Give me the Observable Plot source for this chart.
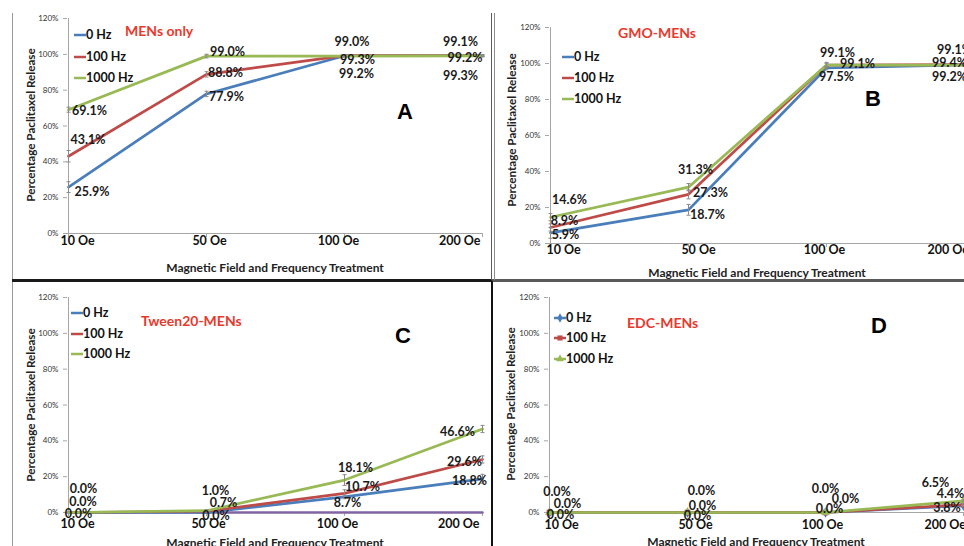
<!DOCTYPE html>
<html><head><meta charset="utf-8">
<script src="https://cdn.jsdelivr.net/npm/d3@7"></script>
<script src="https://cdn.jsdelivr.net/npm/@observablehq/plot@0.6"></script>
<style>
body{margin:0;background:#fff;}
#root{position:relative;width:964px;height:546px;overflow:hidden;background:#fff;font-family:Lato,"Open Sans",sans-serif;}
.abs{position:absolute;white-space:nowrap;line-height:1;}
.ttl{color:#e8392d;font-weight:bold;font-size:14px;transform:translateY(-50%);}
.leg{color:#111;font-weight:bold;font-size:12.5px;transform:translateY(-50%);}
.let{color:#000;font-weight:bold;font-size:22px;font-family:"Liberation Sans",Arial,sans-serif;transform:translateY(-50%);}
.xt{color:#222;font-weight:bold;font-size:12px;transform:translate(-50%,-50%);}
.yt{color:#222;font-weight:bold;font-size:11.7px;transform:translate(-50%,-50%) rotate(-90deg);}
.line{position:absolute;}
svg g[aria-label="y-axis tick label"]{fill:#333;}
</style></head><body><div id="root"></div>
<script>
const categories = ["10 Oe","50 Oe","100 Oe","200 Oe"];
const series = ["0 Hz","100 Hz","1000 Hz"];
const panelTitles = ["MENs only","GMO-MENs","Tween20-MENs","EDC-MENs"];
const panelLetters = ["A","B","C","D"];
const yTicks = [0,20,40,60,80,100,120];
const xTitle = "Magnetic Field and Frequency Treatment";
const yTitle = "Percentage Paclitaxel Release";

const A_0Hz    = [25.9, 77.9, 99.2, 99.3];
const A_100Hz  = [43.1, 88.8, 99.3, 99.2];
const A_1000Hz = [69.1, 99.0, 99.0, 99.1];
const B_0Hz    = [5.9, 18.7, 97.5, 99.2];
const B_100Hz  = [8.9, 27.3, 99.1, 99.4];
const B_1000Hz = [14.6, 31.3, 99.1, 99.1];
const C_0Hz    = [0.0, 0.0, 8.7, 18.8];
const C_100Hz  = [0.0, 0.7, 10.7, 29.6];
const C_1000Hz = [0.0, 1.0, 18.1, 46.6];
const C_baseline = [0, 0, 0, 0];
const D_0Hz    = [0.0, 0.0, 0.0, 3.8];
const D_100Hz  = [0.0, 0.0, 0.0, 4.4];
const D_1000Hz = [0.0, 0.0, 0.0, 6.5];

// error bars (± percentage points), estimated
const A_0Hz_err    = [3, 1.5, 0.5, 0.5];
const A_100Hz_err  = [3.2, 1.5, 0.5, 0.5];
const A_1000Hz_err = [1.4, 1, 0.5, 0.5];
const B_0Hz_err    = [3, 3, 1, 0.5];
const B_100Hz_err  = [2, 2.5, 1, 0.5];
const B_1000Hz_err = [2, 2, 1.5, 0.5];
const C_0Hz_err    = [0, 0, 1, 2.5];
const C_100Hz_err  = [0, 0, 2, 2];
const C_1000Hz_err = [0, 0.5, 3, 2];
const D_0Hz_err    = [0, 0, 0, 0.5];
const D_100Hz_err  = [0, 0, 0, 0.5];
const D_1000Hz_err = [0, 0, 0, 0.5];

// ---------- styling / layout (not data) ----------
const colors = ["#4a7ebb","#be4b48","#98b954"];
const purple = "#8064a2";
const markerSymbols = ["diamond","square","triangle"];

const layout = [
  {left:0,   top:0,   width:490, height:280, ml:67, mr:7,  mt:18, mb:47, tickDy:11,
   ticks:[["start",-8],["middle",3],["middle",-6],["end",-2]],
   nudges:[[[23.5,5],[20,3],[12,18],[-22,20]],
           [[19.5,-16],[19,-1],[13,4],[-17.5,2]],
           [[21,1],[21,-4.5],[7.5,-14],[-22,-14]]],
   title:[125,31], legend:[74,[35,57,78]], letter:[397,112], xt:[275,268], yt:[31,125]},
  {left:494, top:0,   width:490, height:280, ml:55, mr:20, mt:27, mb:37, tickDy:10,
   ticks:[["start",-4],["middle",10],["middle",-2],["start",-37]],
   nudges:[[[15,2],[19,5],[10,8.5],[-15,12]],
           [[14,-6],[22,-1],[31,-1.5],[-15,-2]],
           [[19,-17],[7,-17],[11,-12.5],[-10,-15]]],
   title:[618,33], legend:[562,[57,78,99]], letter:[865,99], xt:[757,273], yt:[512,130]},
  {left:0,   top:282, width:490, height:264, ml:67, mr:7,  mt:15, mb:34, tickDy:15,
   ticks:[["start",-8],["middle",2],["middle",-7],["end",-3]],
   nudges:[[[10,1.5],[9.5,3.5],[3,6],[-13,2]],
           [[14.5,-11],[17,-8.5],[18,-6.5],[-18,3]],
           [[15,-24],[9,-20],[11,-12],[-25,3]]],
   title:[141,321], legend:[71,[313,334,354]], letter:[395,336], xt:[275,543], yt:[31,405]},
  {left:494, top:282, width:490, height:264, ml:54, mr:20, mt:15, mb:34, tickDy:16,
   ticks:[["start",-5],["middle",8],["middle",-3],["start",-39]],
   nudges:[[[11,2],[10,3],[4,-4],[-16.5,2]],
           [[18,-9],[15,-7],[20,-14],[-13,-11]],
           [[7.5,-20.5],[14,-21.5],[0,-24],[-28,-18]]],
   title:[627,323], legend:[554,[318,338,359]], letter:[871,326], xt:[756,542], yt:[511,404]}
];

const panelData = [
  {values:[A_0Hz,A_100Hz,A_1000Hz], errs:[A_0Hz_err,A_100Hz_err,A_1000Hz_err], baseline:null, markers:false},
  {values:[B_0Hz,B_100Hz,B_1000Hz], errs:[B_0Hz_err,B_100Hz_err,B_1000Hz_err], baseline:null, markers:false},
  {values:[C_0Hz,C_100Hz,C_1000Hz], errs:[C_0Hz_err,C_100Hz_err,C_1000Hz_err], baseline:C_baseline, markers:false},
  {values:[D_0Hz,D_100Hz,D_1000Hz], errs:[D_0Hz_err,D_100Hz_err,D_1000Hz_err], baseline:null, markers:true}
];

const capSymbol = {draw(ctx, size){ const r = Math.sqrt(size/Math.PI); ctx.moveTo(-r,0); ctx.lineTo(r,0); }};

const root = document.getElementById("root");
function addDiv(cls, text, x, y){
  const d = document.createElement("div");
  d.className = "abs " + cls; d.textContent = text;
  d.style.left = x + "px"; d.style.top = y + "px";
  root.appendChild(d); return d;
}
function addLine(x, y, w, h, color){
  const d = document.createElement("div");
  d.className = "line";
  Object.assign(d.style, {left:x+"px", top:y+"px", width:w+"px", height:h+"px", background:color});
  root.appendChild(d);
}

panelData.forEach((pd, p) => {
  const L = layout[p];
  const rows = pd.values.flatMap((arr, s) => arr.map((v, i) => ({
    s, series: series[s], cat: categories[i], i, value: v, err: pd.errs[s][i]
  })));
  const marks = [];
  marks.push(Plot.axisY({ticks: yTicks, tickSize: 4, tickPadding: 5, tickFormat: d => d + "%", stroke: "#a6a6a6", fontSize: 8, label: null}));
  marks.push(Plot.axisX({tickSize: 4, tickFormat: () => "", stroke: "#a6a6a6", label: null}));
  marks.push(Plot.ruleY([0], {stroke: "#a6a6a6"}));
  marks.push(Plot.ruleX([categories[0]], {stroke: "#a6a6a6"}));
  if (pd.baseline) {
    marks.push(Plot.line(pd.baseline.map((v, i) => ({cat: categories[i], value: v})), {x: "cat", y: "value", stroke: purple, strokeWidth: 2.5}));
  }
  for (let s = 0; s < series.length; s++) {
    const sd = rows.filter(r => r.s === s);
    marks.push(Plot.line(sd, {x: "cat", y: "value", stroke: colors[s], strokeWidth: 2.7}));
    if (pd.markers) {
      marks.push(Plot.dot(sd, {x: "cat", y: "value", symbol: markerSymbols[s], fill: colors[s], r: 3.2}));
    }
  }
  const eb = rows.filter(r => r.err > 0);
  marks.push(Plot.ruleX(eb, {x: "cat", y1: r => r.value - r.err, y2: r => r.value + r.err, stroke: "#8a8a8a", strokeWidth: 1}));
  marks.push(Plot.dot(eb, {x: "cat", y: r => r.value - r.err, symbol: capSymbol, r: 2, stroke: "#8a8a8a", strokeWidth: 1, fill: "none"}));
  marks.push(Plot.dot(eb, {x: "cat", y: r => r.value + r.err, symbol: capSymbol, r: 2, stroke: "#8a8a8a", strokeWidth: 1, fill: "none"}));
  // data labels
  rows.forEach(r => {
    const [dx, dy] = L.nudges[r.s][r.i];
    marks.push(Plot.text([r], {x: "cat", y: "value", text: d => d.value.toFixed(1) + "%", dx, dy,
      fontSize: 12.5, fontWeight: "bold", fill: "#1a1a1a"}));
  });
  // category tick labels
  categories.forEach((c, i) => {
    const [anchor, dx] = L.ticks[i];
    marks.push(Plot.text([c], {x: d => d, text: d => d, frameAnchor: "bottom", dy: L.tickDy, dx,
      textAnchor: anchor, fontSize: 12.5, fontWeight: "bold", fill: "#111"}));
  });

  const svg = Plot.plot({
    width: L.width, height: L.height,
    marginLeft: L.ml, marginRight: L.mr, marginTop: L.mt, marginBottom: L.mb,
    x: {type: "point", domain: categories, padding: 0, label: null},
    y: {domain: [0, 120], label: null},
    style: {fontFamily: "Lato, 'Open Sans', sans-serif", fontSize: "8px", background: "transparent", overflow: "visible"},
    marks
  });
  svg.style.position = "absolute";
  svg.style.left = L.left + "px";
  svg.style.top = L.top + "px";
  root.appendChild(svg);

  // overlays
  addDiv("ttl", panelTitles[p], L.title[0], L.title[1]);
  addDiv("let", panelLetters[p], L.letter[0], L.letter[1]);
  addDiv("xt", xTitle, L.xt[0], L.xt[1]);
  addDiv("yt", yTitle, L.yt[0], L.yt[1]);
  series.forEach((name, s) => {
    const y = L.legend[1][s];
    const sw = document.createElementNS("http://www.w3.org/2000/svg", "svg");
    sw.setAttribute("width", 14); sw.setAttribute("height", 10);
    Object.assign(sw.style, {position: "absolute", left: (L.legend[0] - 1) + "px", top: (y - 5) + "px"});
    const ln = document.createElementNS("http://www.w3.org/2000/svg", "line");
    ln.setAttribute("x1", 1); ln.setAttribute("x2", 13); ln.setAttribute("y1", 5); ln.setAttribute("y2", 5);
    ln.setAttribute("stroke", colors[s]); ln.setAttribute("stroke-width", 2.5);
    sw.appendChild(ln);
    if (pd.markers) {
      const m = document.createElementNS("http://www.w3.org/2000/svg", "path");
      m.setAttribute("d", d3.symbol(d3["symbol" + markerSymbols[s][0].toUpperCase() + markerSymbols[s].slice(1)], 26)());
      m.setAttribute("transform", "translate(7,5)");
      m.setAttribute("fill", colors[s]);
      sw.appendChild(m);
    }
    root.appendChild(sw);
    addDiv("leg", name, L.legend[0] + 12, y);
  });
});

// panel borders
addLine(12, 13, 1, 533, "#9a9a9a");
addLine(12, 279, 480, 3, "#1a1a1a");
addLine(492, 279, 472, 2.5, "#5a5a5a");
addLine(490.5, 13, 1.5, 267, "#5a5a5a");
addLine(493.5, 13, 1.5, 267, "#8a8a8a");
addLine(490.5, 281, 2.2, 265, "#111");
</script></body></html>
